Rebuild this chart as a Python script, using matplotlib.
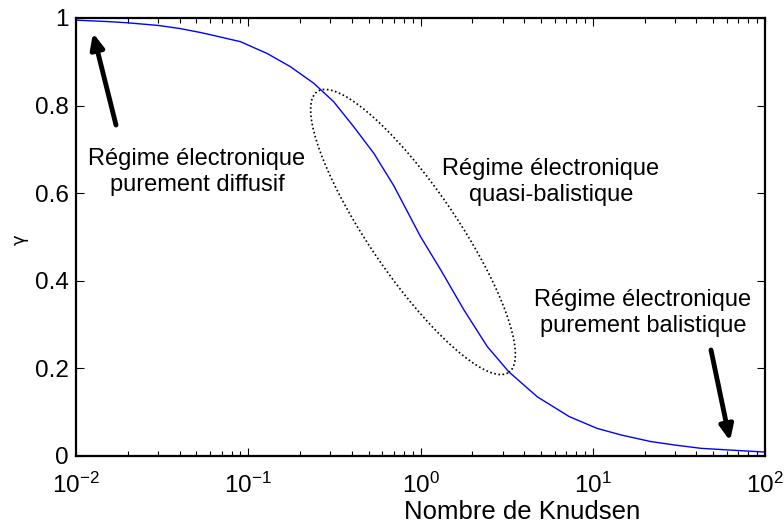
import numpy as np
import matplotlib
matplotlib.use("Agg")
import matplotlib.pyplot as plt
from matplotlib.ticker import FixedLocator, LogLocator

plt.rcParams['font.family'] = ['Liberation Sans', 'DejaVu Sans']
plt.rcParams['mathtext.fontset'] = 'custom'
plt.rcParams['mathtext.rm'] = 'Liberation Sans'
plt.rcParams['mathtext.it'] = 'Liberation Sans:italic'

# Data (Knudsen number, gamma)
knudsen = [0.01, 0.015, 0.02, 0.03, 0.04, 0.0526, 0.06, 0.09, 0.1286, 0.1754,
           0.24, 0.313, 0.409, 0.536, 0.70, 1.0, 1.31, 1.79, 2.44, 3.26, 4.77,
           7.3, 10.6, 14.6, 21.7, 30.0, 42.5, 60.0, 100.0]
gamma = [0.995, 0.992, 0.989, 0.983, 0.976, 0.967, 0.962, 0.946, 0.919, 0.889,
         0.851, 0.809, 0.752, 0.691, 0.617, 0.501, 0.425, 0.333, 0.250, 0.192,
         0.135, 0.090, 0.063, 0.048, 0.033, 0.025, 0.0175, 0.014, 0.009]

y_ticks = [0, 0.2, 0.4, 0.6, 0.8, 1]
y_labels = ['0', '0.2', '0.4', '0.6', '0.8', '1']
x_label = 'Nombre de Knudsen'
y_label = 'γ'
txt_diffusif = 'Régime électronique\npurement diffusif'
txt_quasi = 'Régime électronique\nquasi-balistique'
txt_balistique = 'Régime électronique\npurement balistique'

W, H = 784, 528
fig = plt.figure(figsize=(W / 100, H / 100), dpi=100)
L, R, T, B = 76, 765, 18, 456
ax = fig.add_axes([L / W, 1 - B / H, (R - L) / W, (B - T) / H])

ax.plot(knudsen, gamma, color='#0000ff', lw=1.0)
ax.set_xscale('log')
ax.set_xlim(1e-2, 1e2)
ax.set_ylim(0, 1)

ax.yaxis.set_major_locator(FixedLocator(y_ticks))
ax.set_yticklabels(y_labels)
ax.xaxis.set_major_locator(LogLocator(base=10, numticks=10))
ax.xaxis.set_minor_locator(LogLocator(base=10, subs=np.arange(2, 10), numticks=20))
ax.xaxis.set_minor_formatter(plt.NullFormatter())

ax.tick_params(which='both', direction='in', top=True, right=True, colors='black')
ax.tick_params(which='major', length=6, width=0.8, labelsize=17.5)
ax.tick_params(axis='x', which='major', pad=12)
ax.tick_params(axis='y', which='major', pad=5)
ax.tick_params(which='minor', length=3.5, width=0.8)
for s in ax.spines.values():
    s.set_linewidth(1.6)
    s.set_color('black')

fig.text(522 / W, 1 - 512 / H, x_label, fontsize=18.5, ha='center', va='center')
fig.text(20 / W, 1 - 240 / H, y_label, fontsize=13, ha='center', va='center',
         rotation=90, family=['DejaVu Sans'])

def px(x, y):
    return ((x - L) / (R - L), (B - y) / (B - T))

for (cxp, cyp), s in [((197, 172), txt_diffusif), ((551, 182), txt_quasi),
                      ((643, 313), txt_balistique)]:
    ax.text(*px(cxp, cyp), s, transform=ax.transAxes, fontsize=17,
            ha='center', va='center', linespacing=1.2)

arrow_kw = dict(arrowstyle='-|>,head_length=0.9,head_width=0.4', lw=3.5,
                color='black', shrinkA=0, shrinkB=0)
ax.annotate('', xy=px(93, 33), xytext=px(116, 125), xycoords='axes fraction',
            textcoords='axes fraction', arrowprops=arrow_kw)
ax.annotate('', xy=px(730, 441), xytext=px(711, 350), xycoords='axes fraction',
            textcoords='axes fraction', arrowprops=arrow_kw)

# Dotted ellipse drawn in pixel space
t = np.linspace(0, 2 * np.pi, 400)
cx, cy, a, b = 413, 232, 170, 44
ux, uy = 0.563, 0.826
nx, ny = 0.826, -0.563
ex = cx + a * np.cos(t) * ux + b * np.sin(t) * nx
ey = cy + a * np.cos(t) * uy + b * np.sin(t) * ny
fx, fy = px(ex, ey)
ax.plot(fx, fy, transform=ax.transAxes, color='black', lw=1.2, ls=(0, (1, 1.5)))

fig.savefig('out.png', dpi=100)
